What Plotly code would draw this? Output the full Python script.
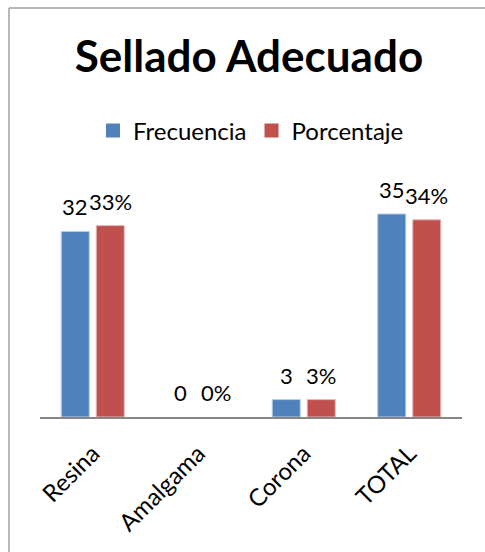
import plotly.graph_objects as go

categories = ["Resina", "Amalgama", "Corona", "TOTAL"]
frecuencia = [32, 0, 3, 35]
porcentaje = [33, 0, 3, 34]
porcentaje_labels = ["33%", "0%", "3%", "34%"]
frecuencia_labels = [str(v) for v in frecuencia]

BLUE, RED = "#4F81BD", "#C0504D"
W, H = 485, 552
ml, mr, mt, mb = 40, 23, 185, 135
FONT = "Lato"

fig = go.Figure()
fig.add_trace(go.Bar(name="Frecuencia", x=categories, y=frecuencia, showlegend=False,
                     hoverinfo="skip",
                     marker=dict(color=BLUE, line=dict(color="#B9CDE5",
                                                       width=[1 if v else 0 for v in frecuencia]))))
fig.add_trace(go.Bar(name="Porcentaje", x=categories, y=porcentaje, showlegend=False,
                     hoverinfo="skip",
                     marker=dict(color=RED, line=dict(color="#E6B9B8",
                                                      width=[1 if v else 0 for v in porcentaje]))))
# legend entries with larger square swatches
for name, col in (("Frecuencia", BLUE), ("Porcentaje", RED)):
    fig.add_trace(go.Scatter(name=name, x=[None], y=[None], mode="markers",
                             marker=dict(symbol="square", size=14, color=col)))

annotations = []
for c, v, t in zip(categories, frecuencia, frecuencia_labels):
    annotations.append(dict(x=c, y=v, text=t, showarrow=False, xshift=-17.5, yshift=9,
                            yanchor="bottom", font=dict(size=22, color="#000", family=FONT)))
for c, v, t in zip(categories, porcentaje, porcentaje_labels):
    annotations.append(dict(x=c, y=v, text=t, showarrow=False, xshift=17.5, yshift=9,
                            yanchor="bottom", font=dict(size=22, color="#000", family=FONT)))

pw = W - ml - mr
ph = H - mt - mb
xl = (9 - ml) / pw
yt = ((H - mb) - 8) / ph
fig.add_shape(type="line", xref="paper", yref="paper",
              x0=xl, x1=xl, y0=-(600 - (H - mb)) / ph, y1=yt,
              line=dict(color="#A0A0A0", width=1.5))
fig.add_shape(type="line", xref="paper", yref="paper",
              x0=xl, x1=(520 - ml) / pw, y0=yt, y1=yt,
              line=dict(color="#A0A0A0", width=1.5))

fig.update_layout(
    width=W, height=H,
    margin=dict(l=ml, r=mr, t=mt, b=mb),
    paper_bgcolor="white", plot_bgcolor="white",
    barmode="group", bargap=0.336, bargroupgap=0.2,
    title=dict(text="<b>Sellado Adecuado</b>", x=249 / W, xanchor="center",
               y=1 - 57 / H, yanchor="middle", yref="container",
               font=dict(size=44, color="#000", family=FONT)),
    legend=dict(orientation="h", x=0.5, xanchor="center", y=1 - 131 / H, yref="container",
                yanchor="middle", font=dict(size=24, color="#000", family=FONT),
                itemwidth=30, traceorder="normal", itemclick=False),
    showlegend=True,
    annotations=annotations,
    xaxis=dict(showline=True, linecolor="#868686", linewidth=2, tickangle=-45,
               tickfont=dict(size=24, color="#000", family=FONT), ticks="", showgrid=False,
               ticklabelstandoff=11),
    yaxis=dict(range=[0, 40], visible=False, showgrid=False, zeroline=False),
)

fig.write_html("out.html", config={"displayModeBar": False},
               post_script="document.body.style.margin='0';")
